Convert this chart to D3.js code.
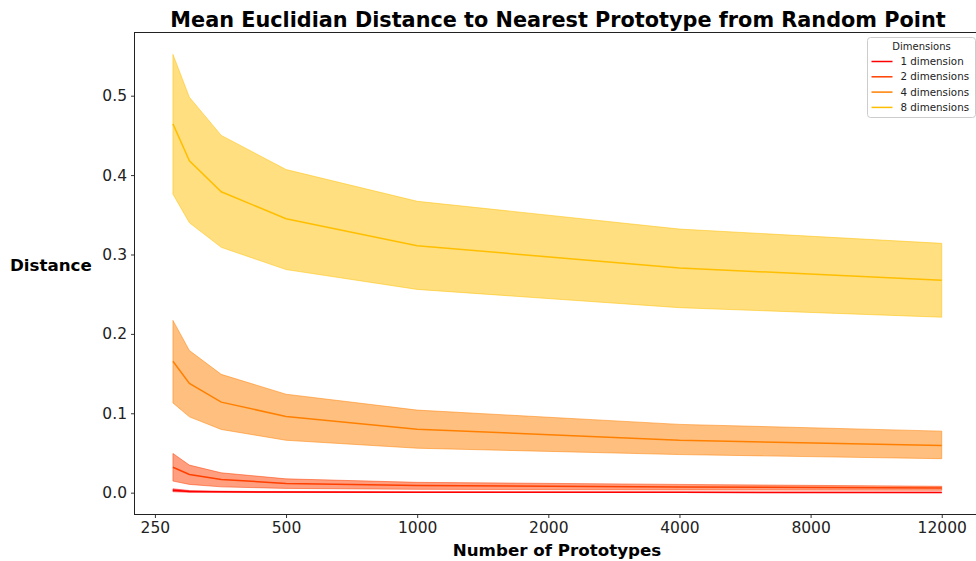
<!DOCTYPE html>
<html>
<head>
<meta charset="utf-8">
<script src="https://cdn.jsdelivr.net/npm/d3@7"></script>
<style>
  html, body { margin: 0; padding: 0; background: #fff; }
  svg { display: block; font-family: "DejaVu Sans", sans-serif; }
</style>
</head>
<body>
<svg id="chart" width="976" height="561"></svg>
<script>
// Number of prototypes sampled at each run
const prototypes = [275, 300, 355, 500, 1000, 4000, 16000];
const tickValues = [250, 500, 1000, 2000, 4000, 8000, 16000];
const tickLabels = ["250", "500", "1000", "2000", "4000", "8000", "12000"];
const yTicks = [0.0, 0.1, 0.2, 0.3, 0.4, 0.5];

const seriesNames = ["1 dimension", "2 dimensions", "4 dimensions", "8 dimensions"];
const seriesColors = ["#ff0000", "#ff4000", "#ff8000", "#ffbf00"];

// mean distance and the band around it (lower / upper)
const mean1 = [0.0030, 0.0016, 0.0011, 0.0007, 0.0005, 0.0004, 0.0003];
const low1  = [0.0012, 0.0006, 0.0004, 0.0003, 0.0002, 0.0002, 0.0001];
const high1 = [0.0048, 0.0027, 0.0018, 0.0012, 0.0009, 0.0007, 0.0006];

const mean2 = [0.0320, 0.0230, 0.0167, 0.0117, 0.0090, 0.0070, 0.0060];
const low2  = [0.0146, 0.0104, 0.0073, 0.0054, 0.0042, 0.0035, 0.0030];
const high2 = [0.0494, 0.0347, 0.0250, 0.0174, 0.0130, 0.0104, 0.0080];

const mean4 = [0.1655, 0.1375, 0.1140, 0.0960, 0.0800, 0.0660, 0.0595];
const low4  = [0.1130, 0.0955, 0.0796, 0.0660, 0.0560, 0.0480, 0.0428];
const high4 = [0.2170, 0.1790, 0.1490, 0.1240, 0.1040, 0.0860, 0.0775];

const mean8 = [0.4645, 0.4180, 0.3790, 0.3450, 0.3110, 0.2830, 0.2675];
const low8  = [0.3760, 0.3400, 0.3090, 0.2810, 0.2560, 0.2330, 0.2210];
const high8 = [0.5520, 0.4980, 0.4500, 0.4070, 0.3670, 0.3320, 0.3140];

const means = [mean1, mean2, mean4, mean8];
const lows = [low1, low2, low4, low8];
const highs = [high1, high2, high4, high8];

const svg = d3.select("#chart");
const plot = { left: 134.5, right: 980, top: 32.5, bottom: 514.5 };

// log2 x axis with 5% padding on each side of the sampled range
const xSpan = Math.log2(prototypes[prototypes.length - 1] / prototypes[0]);
const xPad = Math.pow(2, 0.05 * xSpan);
const x = d3.scaleLog().base(2)
  .domain([prototypes[0] / xPad, prototypes[prototypes.length - 1] * xPad])
  .range([plot.left, plot.left + (941.5 - 172.7) * 1.1]);

const yMin = 0.0001, yMax = 0.5520;
const yPad = (yMax - yMin) * 0.05;
const y = d3.scaleLinear()
  .domain([yMin - yPad, yMax + yPad])
  .range([plot.bottom, plot.top]);

svg.append("defs").append("clipPath").attr("id", "clip")
  .append("rect")
  .attr("x", plot.left).attr("y", plot.top)
  .attr("width", plot.right - plot.left).attr("height", plot.bottom - plot.top);

const g = svg.append("g").attr("clip-path", "url(#clip)");

const area = d3.area()
  .x((d, i) => x(prototypes[i]))
  .y0(d => y(d[0]))
  .y1(d => y(d[1]));

const line = d3.line()
  .x((d, i) => x(prototypes[i]))
  .y(d => y(d));

seriesNames.forEach((name, s) => {
  const band = lows[s].map((v, i) => [v, highs[s][i]]);
  g.append("path")
    .datum(band)
    .attr("d", area)
    .attr("fill", seriesColors[s])
    .attr("fill-opacity", 0.5)
    .attr("stroke", seriesColors[s])
    .attr("stroke-opacity", 0.5)
    .attr("stroke-width", 1);
});
seriesNames.forEach((name, s) => {
  g.append("path")
    .datum(means[s])
    .attr("d", line)
    .attr("fill", "none")
    .attr("stroke", seriesColors[s])
    .attr("stroke-width", 1.5);
});

// axes
const xAxis = d3.axisBottom(x)
  .tickValues(tickValues)
  .tickFormat((d, i) => tickLabels[i])
  .tickSizeInner(3.5).tickSizeOuter(0).tickPadding(4);
const xg = svg.append("g")
  .attr("transform", `translate(0,${plot.bottom})`)
  .call(xAxis);
xg.select(".domain").remove();
xg.selectAll("text").attr("font-size", 15.5).attr("fill", "#222")
  .attr("font-family", "DejaVu Sans");
xg.selectAll("line").attr("stroke", "#333");

const yAxis = d3.axisLeft(y)
  .tickValues(yTicks)
  .tickFormat(d3.format(".1f"))
  .tickSizeInner(3.5).tickSizeOuter(0).tickPadding(4);
const yg = svg.append("g")
  .attr("transform", `translate(${plot.left},0)`)
  .call(yAxis);
yg.select(".domain").remove();
yg.selectAll("text").attr("font-size", 15.5).attr("fill", "#222")
  .attr("font-family", "DejaVu Sans");
yg.selectAll("line").attr("stroke", "#333");

// frame
svg.append("rect")
  .attr("x", plot.left).attr("y", plot.top)
  .attr("width", plot.right - plot.left).attr("height", plot.bottom - plot.top)
  .attr("fill", "none").attr("stroke", "#222").attr("stroke-width", 1);

// titles
svg.append("text")
  .attr("x", 558).attr("y", 26.5)
  .attr("text-anchor", "middle")
  .attr("font-size", 20.8).attr("font-weight", "bold")
  .text("Mean Euclidian Distance to Nearest Prototype from Random Point");

svg.append("text")
  .attr("x", 557).attr("y", 556)
  .attr("text-anchor", "middle")
  .attr("font-size", 16.7).attr("font-weight", "bold")
  .text("Number of Prototypes");

svg.append("text")
  .attr("x", 10).attr("y", 271)
  .attr("font-size", 16.7).attr("font-weight", "bold")
  .text("Distance");

// legend
const lg = svg.append("g").attr("transform", "translate(867.5,37.5)");
lg.append("rect")
  .attr("width", 108).attr("height", 80).attr("rx", 3)
  .attr("fill", "#fff").attr("fill-opacity", 0.8)
  .attr("stroke", "#ccc").attr("stroke-width", 1);
lg.append("text")
  .attr("x", 54).attr("y", 12)
  .attr("text-anchor", "middle")
  .attr("font-size", 10).attr("fill", "#222")
  .text("Dimensions");
seriesNames.forEach((name, s) => {
  const yy = 24 + s * 15.3;
  lg.append("line")
    .attr("x1", 4).attr("x2", 25).attr("y1", yy).attr("y2", yy)
    .attr("stroke", seriesColors[s]).attr("stroke-width", 1.5);
  lg.append("text")
    .attr("x", 33).attr("y", yy + 3.6)
    .attr("font-size", 10.3).attr("fill", "#222")
    .text(name);
});
</script>
</body>
</html>
